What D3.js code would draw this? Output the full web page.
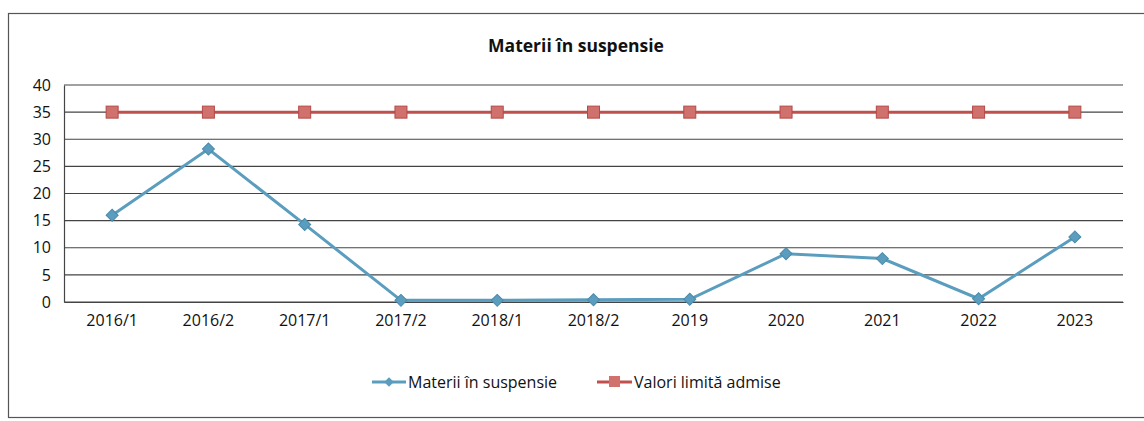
<!DOCTYPE html>
<html>
<head>
<meta charset="utf-8">
<script src="https://cdn.jsdelivr.net/npm/d3@7"></script>
<style>
  body { margin: 0; background: #fff; }
  text { font-family: "Open Sans", "Liberation Sans", sans-serif; fill: #111; }
</style>
</head>
<body>
<div id="chart"></div>
<script>
// Data
var categories = ["2016/1", "2016/2", "2017/1", "2017/2", "2018/1", "2018/2", "2019", "2020", "2021", "2022", "2023"];
var suspended_values = [16.0, 28.2, 14.3, 0.3, 0.3, 0.4, 0.5, 8.9, 8.0, 0.6, 12.0];
var limit_values = [35, 35, 35, 35, 35, 35, 35, 35, 35, 35, 35];
var y_ticks = [0, 5, 10, 15, 20, 25, 30, 35, 40];

var series_names = ["Materii în suspensie", "Valori limită admise"];
var chart_title = "Materii în suspensie";

var svg_width = 1144;
var svg_height = 421;

var margin = { top: 85, right: 21, bottom: 119, left: 64 };
var width = svg_width - margin.left - margin.right;
var height = svg_height - margin.top - margin.bottom;

var blue = "#5a9dbe";
var red = "#c0504d";

var svg = d3.select("#chart")
  .append("svg")
  .attr("width", svg_width)
  .attr("height", svg_height);

// Outer chart border
svg.append("rect")
  .attr("x", 8.5)
  .attr("y", 13.5)
  .attr("width", svg_width)
  .attr("height", 404)
  .attr("fill", "none")
  .attr("stroke", "#555")
  .attr("stroke-width", 1.2);

// Title
svg.append("text")
  .attr("x", 576)
  .attr("y", 52)
  .attr("text-anchor", "middle")
  .attr("font-size", "17.5px")
  .attr("font-weight", "bold")
  .text(chart_title);

var chart_group = svg.append("g")
  .attr("transform", `translate(${margin.left}, ${margin.top})`);

// Scales
var x_band = d3.scaleBand()
  .domain(categories)
  .range([0, width]);

var y_linear = d3.scaleLinear()
  .domain([0, 40])
  .range([height, 0]);

// Gridlines
chart_group.append("g")
  .selectAll("line")
  .data(y_ticks)
  .enter()
  .append("line")
  .attr("x1", 0)
  .attr("x2", width)
  .attr("y1", d => y_linear(d))
  .attr("y2", d => y_linear(d))
  .attr("stroke", "#444")
  .attr("stroke-width", 1.2);

// Y axis
var y_axis = chart_group.append("g")
  .call(d3.axisLeft(y_linear).tickValues(y_ticks).tickSize(0).tickPadding(13));
y_axis.select(".domain").attr("stroke", "#444").attr("stroke-width", 1.2);
y_axis.selectAll("text")
  .attr("font-size", "16px")
  .attr("font-family", "Open Sans, Liberation Sans, sans-serif")
  .attr("fill", "#111");

// X axis
var x_axis = chart_group.append("g")
  .attr("transform", `translate(0, ${height})`)
  .call(d3.axisBottom(x_band).tickSize(0).tickPadding(13));
x_axis.select(".domain").attr("stroke", "#444").attr("stroke-width", 1.2);
x_axis.selectAll("text")
  .attr("font-size", "16px")
  .attr("font-family", "Open Sans, Liberation Sans, sans-serif")
  .attr("fill", "#111");

var x_center = d => x_band(d) + x_band.bandwidth() / 2;

var line_gen = d3.line()
  .x((d, i) => x_center(categories[i]))
  .y(d => y_linear(d));

// Limit line
chart_group.append("path")
  .datum(limit_values)
  .attr("d", line_gen)
  .attr("fill", "none")
  .attr("stroke", red)
  .attr("stroke-width", 3);

chart_group.selectAll(".limitMarker")
  .data(limit_values)
  .enter()
  .append("rect")
  .classed("limitMarker", true)
  .attr("x", (d, i) => x_center(categories[i]) - 6)
  .attr("y", d => y_linear(d) - 6)
  .attr("width", 12)
  .attr("height", 12)
  .attr("fill", "#d1716d")
  .attr("stroke", "#b34a46")
  .attr("stroke-width", 1);

// Suspended matter line
chart_group.append("path")
  .datum(suspended_values)
  .attr("d", line_gen)
  .attr("fill", "none")
  .attr("stroke", blue)
  .attr("stroke-width", 3);

// Square diamond marker (square turned 45 degrees)
var diamond = d3.symbol().type(d3.symbolSquare).size(72);

chart_group.selectAll(".suspMarker")
  .data(suspended_values)
  .enter()
  .append("path")
  .classed("suspMarker", true)
  .attr("d", diamond)
  .attr("transform", (d, i) => `translate(${x_center(categories[i])}, ${y_linear(d)}) rotate(45)`)
  .attr("fill", blue)
  .attr("stroke", "#4a8aab")
  .attr("stroke-width", 1);

// Legend
var legend = svg.append("g");

legend.append("line")
  .attr("x1", 372).attr("x2", 406)
  .attr("y1", 382).attr("y2", 382)
  .attr("stroke", blue).attr("stroke-width", 3);
legend.append("path")
  .attr("d", d3.symbol().type(d3.symbolSquare).size(45))
  .attr("transform", "translate(389, 382) rotate(45)")
  .attr("fill", blue);
legend.append("text")
  .attr("x", 408).attr("y", 388)
  .attr("font-size", "16px")
  .text(series_names[0]);

legend.append("line")
  .attr("x1", 597).attr("x2", 632)
  .attr("y1", 382).attr("y2", 382)
  .attr("stroke", red).attr("stroke-width", 3);
legend.append("rect")
  .attr("x", 609).attr("y", 376)
  .attr("width", 11).attr("height", 11)
  .attr("fill", "#d1716d");
legend.append("text")
  .attr("x", 634).attr("y", 388)
  .attr("font-size", "16px")
  .text(series_names[1]);
</script>
</body>
</html>
